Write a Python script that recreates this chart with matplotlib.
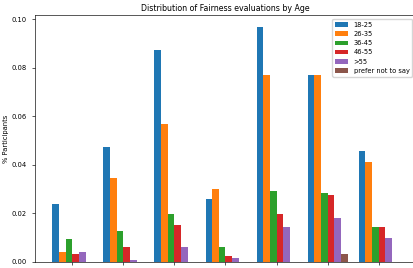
import numpy as np
import matplotlib
matplotlib.use("Agg")
import matplotlib.pyplot as plt

# Fairness score buckets
scores = [-3, -2, -1, 0, 1, 2, 3]
age_groups = ["18-25", "26-35", "36-45", "46-55", ">55", "prefer not to say"]

# share of participants per score, one list per age group
share_18_25 = [0.0241, 0.0476, 0.0875, 0.0259, 0.0970, 0.0770, 0.0458]
share_26_35 = [0.0043, 0.0345, 0.0570, 0.0301, 0.0770, 0.0770, 0.0414]
share_36_45 = [0.0094, 0.0128, 0.0197, 0.0061, 0.0292, 0.0284, 0.0146]
share_46_55 = [0.0033, 0.0061, 0.0154, 0.0025, 0.0197, 0.0276, 0.0146]
share_over_55 = [0.0043, 0.0008, 0.0061, 0.0017, 0.0146, 0.0181, 0.0097]
share_no_say = [0.0, 0.0, 0.0, 0.0, 0.0, 0.0033, 0.0]

series = [share_18_25, share_26_35, share_36_45, share_46_55, share_over_55, share_no_say]

s = 0.58  # line scale of the reference picture
f = 0.49  # font scale
plt.rcParams.update({
    "font.size": 10 * f,
    "axes.linewidth": 0.8 * s,
    "xtick.major.size": 2,
    "ytick.major.size": 2,
    "xtick.major.width": 0.8 * s,
    "ytick.major.width": 0.8 * s,
    "xtick.major.pad": 3,
    "ytick.major.pad": 4,
})

fig = plt.figure(figsize=(4.14, 2.68), dpi=100)
ax = fig.add_axes([35 / 414, 6 / 268, 381 / 414, 247 / 268])

x = np.array(scores, dtype=float)
w = 0.13
for i, (vals, name) in enumerate(zip(series, age_groups)):
    ax.bar(x + (i - 2.5) * w, vals, width=w, label=name)

ax.set_xticks(scores)
ax.set_xticklabels([str(v) for v in scores], rotation=90)
ax.set_ylabel("% Participants", labelpad=2)
ax.set_title("Distribution of Fairness evaluations by Age", fontsize=12 * 0.475, pad=3)
ax.legend(loc="upper right", fontsize=10 * 0.475, borderaxespad=0.6)

fig.savefig("out.png", dpi=100)
